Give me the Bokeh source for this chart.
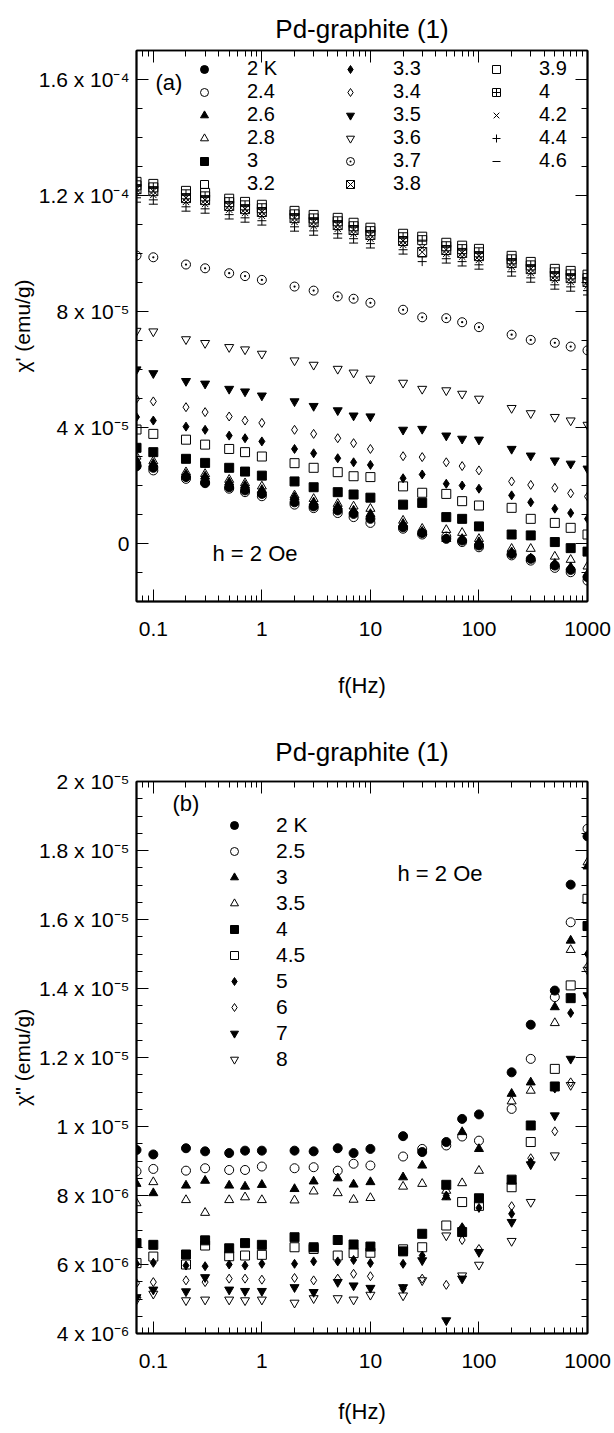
import numpy as np
from bokeh.plotting import figure
from bokeh.models import (FixedTicker, LogAxis, LinearAxis, Legend, LegendItem,
                          Label, CustomJSTickFormatter, Range1d, Title)
from bokeh.layouts import column
from bokeh.embed import file_html
from bokeh.resources import INLINE

FONT = "Liberation Sans"

# ---------------- data ----------------
freq = [0.07, 0.1, 0.2, 0.3, 0.5, 0.7, 1, 2, 3, 5, 7, 10, 20, 30, 50, 70, 100,
        200, 300, 500, 700, 1000]

# panel (a): chi' in units of 1e-5 emu/g
a_labels = ["2 K", "2.4", "2.6", "2.8", "3", "3.2", "3.3", "3.4", "3.5",
            "3.6", "3.7", "3.8", "3.9", "4", "4.2", "4.4", "4.6"]
a_T2_0 = [2.66, 2.61, 2.29, 2.08, 1.94, 1.83, 1.71, 1.42, 1.28, 1.14, 1.02, 0.85, 0.56, 0.36, 0.16, 0.10, -0.07, -0.36, -0.53, -0.76, -0.91, -1.16]
a_T2_4 = [2.69, 2.52, 2.23, 2.11, 1.89, 1.77, 1.63, 1.34, 1.22, 1.05, 0.91, 0.71, 0.51, 0.31, 0.24, 0.05, -0.13, -0.41, -0.59, -0.84, -0.99, -1.28]
a_T2_6 = [2.86, 2.75, 2.38, 2.31, 2.11, 2.00, 1.85, 1.60, 1.42, 1.28, 1.14, 1.02, 0.68, 0.41, 0.16, 0.16, 0.05, -0.30, -0.51, -0.70, -0.82, -1.05]
a_T2_8 = [3.00, 2.84, 2.46, 2.40, 2.20, 2.08, 1.97, 1.66, 1.54, 1.37, 1.28, 1.20, 0.79, 0.51, 0.47, 0.37, 0.16, -0.18, -0.18, -0.45, -0.56, -0.79]
a_T3_0 = [3.30, 3.15, 2.92, 2.78, 2.61, 2.48, 2.34, 2.14, 1.94, 1.77, 1.69, 1.58, 1.34, 1.40, 0.91, 0.85, 0.59, 0.31, 0.28, 0.05, -0.16, -0.28]
a_T3_2 = [3.93, 3.78, 3.58, 3.41, 3.26, 3.15, 3.00, 2.77, 2.61, 2.46, 2.32, 2.29, 1.97, 1.75, 1.71, 1.46, 1.31, 1.23, 0.85, 0.71, 0.54, 0.31]
a_T3_3 = [4.36, 4.24, 4.03, 3.92, 3.72, 3.63, 3.52, 3.26, 3.11, 2.94, 2.80, 2.71, 2.25, 2.38, 2.06, 2.00, 1.89, 1.66, 1.42, 1.20, 1.05, 0.85]
a_T3_4 = [4.99, 4.90, 4.70, 4.53, 4.38, 4.24, 4.16, 3.92, 3.78, 3.63, 3.46, 3.26, 3.01, 2.98, 2.80, 2.67, 2.52, 2.14, 2.02, 1.92, 1.73, 1.62]
a_T3_5 = [6.00, 5.87, 5.60, 5.51, 5.33, 5.24, 5.10, 4.90, 4.74, 4.59, 4.41, 4.38, 3.92, 3.95, 3.72, 3.61, 3.58, 3.26, 3.03, 2.86, 2.75, 2.58]
a_T3_6 = [7.33, 7.31, 7.04, 6.91, 6.77, 6.69, 6.54, 6.31, 6.16, 6.02, 5.89, 5.68, 5.54, 5.33, 5.28, 5.16, 4.99, 4.67, 4.49, 4.36, 4.24, 4.09]
a_T3_7 = [9.93, 9.87, 9.62, 9.49, 9.32, 9.22, 9.09, 8.86, 8.72, 8.52, 8.44, 8.30, 8.06, 7.80, 7.77, 7.63, 7.46, 7.20, 7.02, 6.92, 6.79, 6.66]
a_T3_8 = [12.22, 12.15, 11.91, 11.84, 11.64, 11.53, 11.43, 11.22, 11.08, 10.98, 10.81, 10.64, 10.43, 10.05, 10.12, 10.02, 9.91, 9.67, 9.46, 9.22, 9.15, 9.02]
a_T3_9 = [12.47, 12.40, 12.16, 12.09, 11.89, 11.78, 11.68, 11.47, 11.33, 11.23, 11.06, 10.89, 10.68, 10.58, 10.37, 10.27, 10.16, 9.92, 9.71, 9.47, 9.40, 9.27]
a_T4_0 = [12.35, 12.28, 12.04, 11.97, 11.77, 11.66, 11.56, 11.35, 11.21, 11.11, 10.94, 10.77, 10.56, 10.46, 10.25, 10.15, 10.04, 9.80, 9.59, 9.35, 9.28, 9.15]
a_T4_2 = [12.09, 12.02, 11.78, 11.71, 11.51, 11.40, 11.30, 11.09, 10.95, 10.85, 10.68, 10.51, 10.30, 10.20, 9.99, 9.89, 9.78, 9.54, 9.33, 9.09, 9.02, 8.89]
a_T4_4 = [11.92, 11.85, 11.61, 11.54, 11.34, 11.23, 11.13, 10.92, 10.78, 10.68, 10.51, 10.34, 10.13, 9.72, 9.82, 9.72, 9.61, 9.37, 9.16, 8.92, 8.85, 8.72]
a_T4_6 = [11.77, 11.70, 11.46, 11.39, 11.19, 11.08, 10.98, 10.77, 10.63, 10.53, 10.36, 10.19, 9.98, 9.88, 9.67, 9.57, 9.46, 9.22, 9.01, 8.77, 8.70, 8.57]

# panel (b): chi'' in units of 1e-6 emu/g
b_labels = ["2 K", "2.5", "3", "3.5", "4", "4.5", "5", "6", "7", "8"]
b_T2_0 = [9.32, 9.19, 9.37, 9.28, 9.23, 9.30, 9.30, 9.30, 9.28, 9.37, 9.23, 9.35, 9.72, 9.26, 9.55, 10.22, 10.35, 11.57, 12.95, 13.94, 17.01, 18.41]
b_T2_5 = [8.70, 8.77, 8.72, 8.79, 8.74, 8.74, 8.84, 8.79, 8.82, 8.72, 8.92, 8.87, 9.13, 9.35, 9.45, 9.71, 9.59, 10.51, 11.96, 13.75, 15.92, 18.63]
b_T3_0 = [8.34, 8.07, 8.29, 8.43, 8.29, 8.26, 8.31, 8.19, 8.41, 8.50, 8.32, 8.39, 8.53, 8.87, 7.95, 9.84, 9.35, 10.95, 11.28, 13.46, 15.39, 17.54]
b_T3_5 = [7.78, 8.39, 7.87, 7.50, 7.87, 7.95, 7.87, 7.86, 8.12, 8.07, 7.88, 7.93, 8.26, 8.34, 8.14, 8.36, 8.72, 10.73, 11.04, 13.00, 15.12, 17.66]
b_T4_0 = [6.62, 6.57, 6.29, 6.70, 6.47, 6.62, 6.57, 6.79, 6.50, 6.71, 6.58, 6.52, 6.38, 6.89, 8.31, 6.94, 7.92, 8.46, 10.03, 11.16, 13.72, 15.81]
b_T4_5 = [6.04, 6.23, 6.00, 6.55, 6.24, 6.26, 6.28, 6.50, 6.45, 6.26, 6.33, 6.34, 6.44, 6.50, 7.13, 7.81, 7.70, 8.24, 9.55, 11.67, 14.09, 16.60]
b_T5_0 = [6.02, 6.05, 5.97, 5.95, 6.00, 5.97, 6.02, 6.02, 6.09, 6.09, 6.13, 6.04, 6.02, 6.26, 8.00, 7.08, 7.64, 7.47, 8.97, 11.10, 13.29, 15.00]
b_T6_0 = [5.46, 5.49, 5.54, 5.49, 5.59, 5.59, 5.56, 5.61, 5.54, 5.59, 5.73, 5.66, 5.30, 5.59, 5.41, 6.71, 6.45, 7.69, 9.08, 9.86, 11.28, 14.64]
b_T7_0 = [5.05, 5.27, 5.22, 5.63, 5.27, 5.23, 5.23, 5.34, 5.20, 5.49, 5.39, 5.32, 5.34, 6.12, 4.38, 5.59, 6.36, 7.23, 8.90, 10.32, 11.96, 13.80]
b_T8_0 = [4.98, 5.15, 4.96, 4.98, 4.98, 4.96, 4.98, 4.89, 5.02, 5.02, 4.98, 5.12, 5.10, 5.54, 6.84, 5.68, 5.99, 6.68, 7.81, 9.16, 11.20, 14.54]

x_major = [0.1, 1, 10, 100, 1000]
x_minor = [0.07, 0.08, 0.09, 0.2, 0.3, 0.4, 0.5, 0.6, 0.7, 0.8, 0.9,
           2, 3, 4, 5, 6, 7, 8, 9, 20, 30, 40, 50, 60, 70, 80, 90,
           200, 300, 400, 500, 600, 700, 800, 900]
a_y_major = [0, 4e-5, 8e-5, 1.2e-4, 1.6e-4]
a_y_minor = [-2e-5, -1e-5, 1e-5, 2e-5, 3e-5, 5e-5, 6e-5, 7e-5, 9e-5, 1e-4, 1.1e-4,
             1.3e-4, 1.4e-4, 1.5e-4, 1.7e-4]
b_y_major = [4e-6, 6e-6, 8e-6, 1e-5, 1.2e-5, 1.4e-5, 1.6e-5, 1.8e-5, 2e-5]
b_y_minor = [4.5e-6, 5e-6, 5.5e-6, 6.5e-6, 7e-6, 7.5e-6, 8.5e-6, 9e-6, 9.5e-6,
             1.05e-5, 1.1e-5, 1.15e-5, 1.25e-5, 1.3e-5, 1.35e-5, 1.45e-5, 1.5e-5,
             1.55e-5, 1.65e-5, 1.7e-5, 1.75e-5, 1.85e-5, 1.9e-5, 1.95e-5]

# marker styles: (marker, filled)
a_styles = [("circle", True), ("circle", False), ("triangle", True), ("triangle", False),
            ("square", True), ("square", False), ("diamond", True), ("diamond", False),
            ("inverted_triangle", True), ("inverted_triangle", False), ("circle_dot", False),
            ("square_x", False), ("square", False), ("square_cross", False),
            ("x", False), ("cross", False), ("dash", False)]
b_styles = [("circle", True), ("circle", False), ("triangle", True), ("triangle", False),
            ("square", True), ("square", False), ("diamond", True), ("diamond", False),
            ("inverted_triangle", True), ("inverted_triangle", False)]

a_series = [a_T2_0, a_T2_4, a_T2_6, a_T2_8, a_T3_0, a_T3_2, a_T3_3, a_T3_4, a_T3_5,
            a_T3_6, a_T3_7, a_T3_8, a_T3_9, a_T4_0, a_T4_2, a_T4_4, a_T4_6]
b_series = [b_T2_0, b_T2_5, b_T3_0, b_T3_5, b_T4_0, b_T4_5, b_T5_0, b_T6_0, b_T7_0, b_T8_0]

Y_FMT_CODE = """
const sup = {"-":"\u207b","0":"\u2070","1":"\u00b9","2":"\u00b2","3":"\u00b3","4":"\u2074",
             "5":"\u2075","6":"\u2076","7":"\u2077","8":"\u2078","9":"\u2079"};
if (Math.abs(tick) < 1e-12) return "0";
const e = Math.floor(Math.log10(Math.abs(tick)) + 1e-9);
const m = Math.round(tick / Math.pow(10, e) * 10) / 10;
const es = String(e).split("").map(c => sup[c]).join("");
return m + " x 10" + es;
"""
X_FMT_CODE = "return tick >= 1 ? tick.toFixed(0) : String(tick);"
EMPTY_CODE = "return '';"


def style_axis(ax, labels=True, standoff=8):
    ax.axis_line_color = "black"
    ax.axis_line_width = 2
    ax.major_tick_line_color = "black"
    ax.minor_tick_line_color = "black"
    ax.major_tick_line_width = 1
    ax.minor_tick_line_width = 1
    ax.major_tick_in = 12
    ax.major_tick_out = 0
    ax.minor_tick_in = 6
    ax.minor_tick_out = 0
    ax.major_label_standoff = standoff
    ax.major_label_text_font = FONT
    ax.major_label_text_color = "black"
    ax.major_label_text_font_size = "21px" if labels else "2px"
    ax.axis_label_text_font = FONT
    ax.axis_label_text_font_style = "normal"
    ax.axis_label_text_color = "black"


def make_panel(height, top, bottom, yr, ymaj, ymin, scale, series, styles, names,
               ylabel, title_standoff, xlabel_standoff, title_valign):
    p = figure(width=614, height=height, x_axis_type="log",
               x_range=Range1d(0.07, 1000), y_range=Range1d(*yr),
               output_backend="svg", toolbar_location=None,
               min_border_left=136, min_border_right=27,
               min_border_top=top, min_border_bottom=bottom)
    p.title = Title(text="Pd-graphite (1)", align="center", text_font=FONT,
                    text_font_size="26px", text_font_style="normal",
                    text_color="black", standoff=title_standoff,
                    vertical_align=title_valign)
    p.grid.visible = False
    p.outline_line_color = "black"
    p.outline_line_width = 1.5
    p.background_fill_color = "white"
    p.border_fill_color = "white"
    p.xaxis[0].ticker = FixedTicker(ticks=x_major, minor_ticks=x_minor)
    p.xaxis[0].formatter = CustomJSTickFormatter(code=X_FMT_CODE)
    p.yaxis[0].ticker = FixedTicker(ticks=ymaj, minor_ticks=ymin)
    p.yaxis[0].formatter = CustomJSTickFormatter(code=Y_FMT_CODE)
    style_axis(p.xaxis[0], True, 20)
    style_axis(p.yaxis[0], True, 7)
    p.xaxis[0].axis_label = "f(Hz)"
    p.xaxis[0].axis_label_text_font_size = "22px"
    p.xaxis[0].axis_label_standoff = xlabel_standoff
    p.yaxis[0].axis_label = ylabel
    p.yaxis[0].axis_label_text_font_size = "21px"
    p.yaxis[0].axis_label_standoff = 2
    top_ax = LogAxis(ticker=FixedTicker(ticks=x_major, minor_ticks=x_minor),
                     formatter=CustomJSTickFormatter(code=EMPTY_CODE))
    style_axis(top_ax, False, 0)
    top_ax.axis_line_width = 1.5
    p.add_layout(top_ax, "above")
    right_ax = LinearAxis(ticker=FixedTicker(ticks=ymaj, minor_ticks=ymin),
                          formatter=CustomJSTickFormatter(code=EMPTY_CODE))
    style_axis(right_ax, False, 0)
    p.add_layout(right_ax, "right")

    items = []
    for vals, (mk, filled), name in zip(series, styles, names):
        y = np.array(vals) * scale
        r = p.scatter(freq, y, marker=mk, size=9, line_color="black", line_width=1,
                      fill_color="black" if filled else None)
        items.append(LegendItem(label=name, renderers=[r]))
    return p, items


p1, items1 = make_panel(715, 50, 114, (-2e-5, 1.7e-4), a_y_major, a_y_minor, 1e-5,
                        a_series, a_styles, a_labels, "\u03c7' (emu/g)", 10, 34, "top")
leg1 = Legend(items=items1, location=(58, 406), orientation="vertical", nrows=6,
              glyph_width=20, glyph_height=20, label_standoff=33, label_width=93,
              spacing=0, padding=0, margin=0, border_line_color=None,
              background_fill_alpha=0, label_text_font=FONT,
              label_text_color="black", label_text_font_size="20px")
p1.add_layout(leg1)

p2, items2 = make_panel(718, 66, 100, (4e-6, 2e-5), b_y_major, b_y_minor, 1e-6,
                        b_series, b_styles, b_labels, "\u03c7'' (emu/g)", 30, 28, "bottom")
leg2 = Legend(items=items2, location=(88, 262), orientation="vertical",
              glyph_width=20, glyph_height=20, label_standoff=32,
              spacing=2, padding=0, margin=0, border_line_color=None,
              background_fill_alpha=0, label_text_font=FONT,
              label_text_color="black", label_text_font_size="21px")
p2.add_layout(leg2)


def lab(p, x, y, text, size="22px"):
    p.add_layout(Label(x=x, y=y, x_units="screen", y_units="screen", text=text,
                       text_font=FONT, text_font_size=size, text_align="left",
                       text_baseline="middle", text_color="black"))


lab(p1, 19, 519, "(a)")
lab(p1, 76, 48, "h = 2 Oe")
lab(p2, 36, 530, "(b)")
lab(p2, 261, 460, "h = 2 Oe")

layout = column(p1, p2, spacing=0)
open("out.html", "w").write(file_html(layout, INLINE))
